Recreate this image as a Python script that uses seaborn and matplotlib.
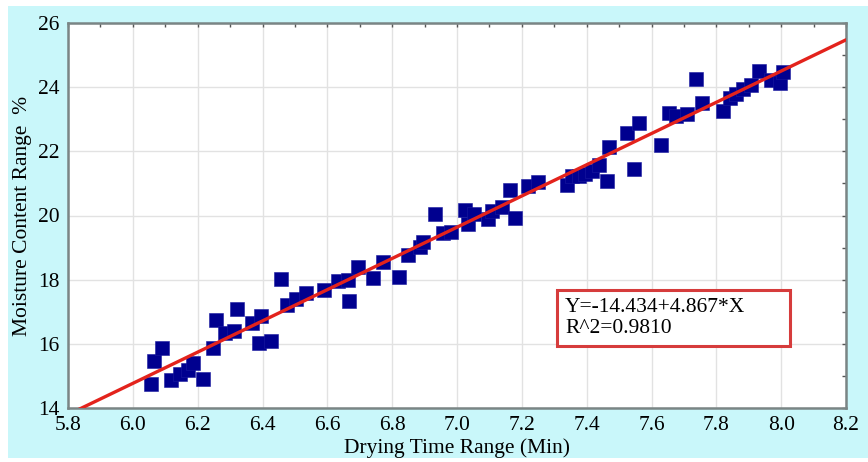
import numpy as np
import pandas as pd
import matplotlib
matplotlib.use("Agg")
import matplotlib.pyplot as plt
import seaborn as sns
from matplotlib.patches import Rectangle

# ---- data ----
drying_time = [6.056, 6.066, 6.090, 6.118, 6.147, 6.170, 6.186, 6.217, 6.248, 6.258,
               6.285, 6.312, 6.320, 6.369, 6.395, 6.389, 6.426, 6.457, 6.477, 6.503,
               6.534, 6.591, 6.632, 6.663, 6.668, 6.694, 6.740, 6.771, 6.820, 6.849,
               6.885, 6.895, 6.932, 6.957, 6.983, 7.024, 7.035, 7.053, 7.097, 7.107,
               7.138, 7.164, 7.179, 7.220, 7.251, 7.339, 7.355, 7.375, 7.396, 7.416,
               7.437, 7.463, 7.468, 7.525, 7.546, 7.561, 7.628, 7.654, 7.675, 7.711,
               7.737, 7.755, 7.821, 7.842, 7.860, 7.881, 7.907, 7.933, 7.969, 7.995,
               8.005]
moisture = [14.75, 15.45, 15.88, 14.87, 15.05, 15.20, 15.40, 14.90, 15.88, 16.75,
            16.33, 16.40, 17.08, 16.66, 16.87, 16.02, 16.10, 18.03, 17.21, 17.40,
            17.57, 17.68, 17.97, 18.00, 17.32, 18.40, 18.06, 18.56, 18.09, 18.77,
            19.03, 19.18, 20.06, 19.46, 19.48, 20.17, 19.72, 20.06, 19.90, 20.15,
            20.27, 20.79, 19.93, 20.92, 21.05, 20.95, 21.22, 21.22, 21.28, 21.38,
            21.57, 21.08, 22.14, 22.56, 21.46, 22.87, 22.20, 23.20, 23.10, 23.15,
            24.27, 23.50, 23.26, 23.66, 23.78, 23.95, 24.08, 24.50, 24.22, 24.14,
            24.48]
intercept = -14.434
slope = 4.867
r_squared = 0.9810
x_ticks = [5.8, 6.0, 6.2, 6.4, 6.6, 6.8, 7.0, 7.2, 7.4, 7.6, 7.8, 8.0, 8.2]
y_ticks = [14, 16, 18, 20, 22, 24, 26]

df = pd.DataFrame({"x": drying_time, "y": moisture})
line_x = np.array([x_ticks[0], x_ticks[-1]])
line_df = pd.DataFrame({"x": line_x, "y": intercept + slope * line_x})

sns.set_theme(style="white")
plt.rcParams["font.family"] = ["Liberation Serif", "DejaVu Serif"]

fig = plt.figure(figsize=(8.68, 4.62), dpi=100, facecolor="white")
bg = Rectangle((8 / 868, 4 / 462), 860 / 868, 452 / 462,
               transform=fig.transFigure, facecolor="#c9f7fa",
               edgecolor="none", zorder=-10)
fig.patches.append(bg)

L, R, T, B = 68, 846, 23, 408
ax = fig.add_axes([L / 868, 1 - B / 462, (R - L) / 868, (B - T) / 462])
ax.set_facecolor("white")
ax.set_zorder(1)

ax.grid(True, color="#e2e2e2", lw=1.0, zorder=0)
ax.set_axisbelow(True)

sns.scatterplot(data=df, x="x", y="y", marker="s", s=105, color="#00008f",
                edgecolor="#1a1aa0", linewidth=0.4, ax=ax, zorder=3, legend=False)
sns.lineplot(data=line_df, x="x", y="y", color="#e3231c", lw=2.4, ax=ax, zorder=4)

ax.set_xlim(x_ticks[0], x_ticks[-1])
ax.set_ylim(y_ticks[0], y_ticks[-1])
ax.set_xticks(x_ticks)
ax.set_xticklabels([f"{v:.1f}" for v in x_ticks])
ax.set_yticks(y_ticks)
ax.set_yticklabels([str(v) for v in y_ticks])
ax.set_xticks(np.arange(5.9, 8.2, 0.2), minor=True)
ax.set_yticks(np.arange(15, 26, 2), minor=True)
ax.tick_params(axis="both", which="both", direction="in", top=True, right=True,
               length=3, width=1.0, color="#555555", labelsize=15.5,
               labelcolor="black")
ax.tick_params(axis="x", which="major", pad=6)
ax.tick_params(axis="y", which="major", pad=6)

for sp in ax.spines.values():
    sp.set_color("#7a8585")
    sp.set_linewidth(1.8)

ax.set_xlabel("Drying Time Range (Min)", fontsize=15.5, labelpad=2, color="black")
ax.set_ylabel("Moisture Content Range  %", fontsize=15.5, labelpad=4, color="black")

txt = f"Y={intercept:.3f}+{slope:.3f}*X\nR^2={r_squared:.4f}"
ax.text((565 - L) / (R - L), (B - 318) / (B - T), txt,
        transform=ax.transAxes, fontsize=15.5, color="black", linespacing=1.2,
        va="center", ha="left", zorder=6)
ax.add_patch(Rectangle(((557 - L) / (R - L), (B - 346) / (B - T)),
                       (790 - 557) / (R - L), (346 - 290) / (B - T),
                       transform=ax.transAxes, facecolor="white",
                       edgecolor="#d63c3c", lw=2.2, zorder=5))

fig.savefig("out.png", dpi=100, facecolor=fig.get_facecolor())
